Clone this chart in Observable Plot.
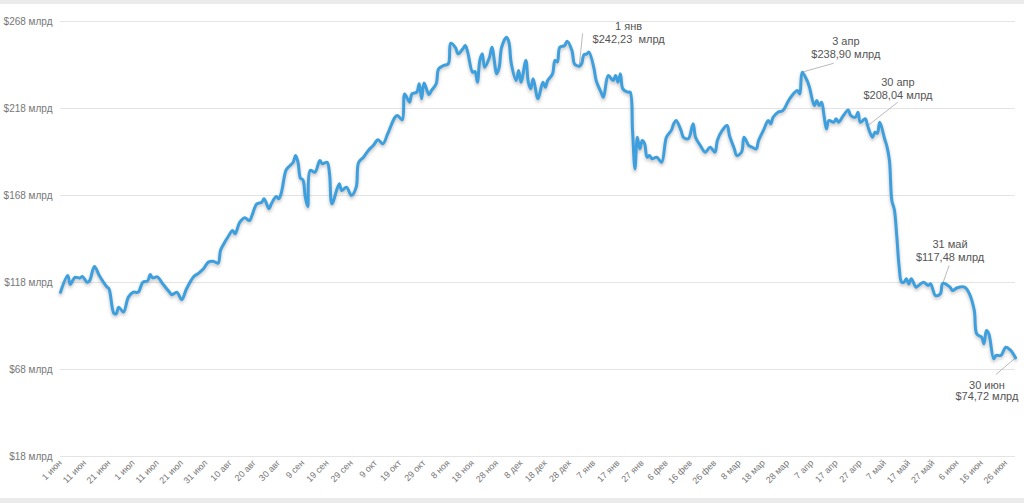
<!DOCTYPE html>
<html>
<head>
<meta charset="utf-8">
<script src="https://cdn.jsdelivr.net/npm/d3@7"></script>
<script src="https://cdn.jsdelivr.net/npm/@observablehq/plot@0.6"></script>
<style>
  html, body { margin: 0; padding: 0; background: #fff; }
  body { width: 1024px; height: 503px; overflow: hidden; position: relative; font-family: "Liberation Sans", Arial, Helvetica, sans-serif; }
  .strip { position: absolute; left: 0; width: 1024px; background: #ebebeb; }
  #chart svg { display: block; }
</style>
</head>
<body>
<div id="chart"></div>
<div class="strip" style="top:0;height:4px"></div>
<div class="strip" style="top:498px;height:5px"></div>
<script>
// Days since 1 June 2021 and total market value, $ billions
const days = [0,3,4,6,8,9,11,12,14,16,19,20,22,23,24,26,28,30,32,34,36,37,38,40,42,45,46,48,50,52,55,57,59,61,63,65,66,67,69,71,72,74,76,78,79,81,83,84,86,87,89,90,91,93,94,96,97,98,99,100,101,102,103,105,107,108,110,111,112,115,116,118,120,122,123,125,127,129,131,133,135,138,139,141,142,144,145,147,148,149,150,152,153,155,156,158,160,161,163,164,166,167,168,170,171,172,173,174,175,177,178,180,181,182,184,185,186,188,189,190,192,193,194,195,197,199,200,201,203,204,205,206,208,209,211,212,213,214,215,216,217,218,220,221,223,224,226,228,229,230,231,232,234,235,236,237,238,239,240,241,242,243,244,246,248,250,252,253,254,256,257,259,261,262,264,266,268,270,271,273,275,276,278,279,281,282,284,285,287,288,290,292,293,294,296,298,300,301,303,304,305,306,308,309,311,312,313,314,315,316,317,319,320,321,323,325,326,328,329,330,332,333,335,336,337,338,340,341,342,343,344,345,346,347,348,349,350,351,353,354,356,358,359,361,363,364,367,368,370,373,375,377,378,380,381,382,383,385,386,388,390,392,394];
const values = [112.4,122,116.9,121,120.6,121.4,118.2,119,127.2,122,115.7,114.4,100.4,100,103.8,101,109.6,112.4,112.4,118.2,119,122.6,120.7,121.2,117.6,112.4,111,112.4,108.2,114.4,121.4,123.4,125.9,129.7,130.2,129.1,136.4,139.3,144,147.9,146,152.7,155.2,153.6,156.5,163.2,164.1,166.1,160.4,163.2,167.4,166.1,169,182.4,184.3,187.1,191,187,178,177,167,161.7,182.4,181.4,188.1,186.2,187.1,180.5,163.2,174.7,170.9,172.8,168,172.8,187.1,190,193.9,196.7,200,197.7,203.5,213,214,211.5,226.4,221.6,226.4,227.4,232.2,223.6,232.6,226,228.3,232.2,240.8,242.7,243.7,255.5,252.9,249.4,252.3,254.2,250.4,238.9,239.2,233.1,245.6,249.4,241.7,247.5,253.2,237.9,241.7,253.2,259,256.1,243.7,234.1,239.8,233.1,245.6,233.1,229.3,235.1,223.6,233.1,230.2,234.1,237.9,245.6,244.8,253.2,254.2,256.7,251.3,243.7,242.7,242.23,243.7,249,249.2,250.4,241.7,234.1,227.4,224.5,237,234.1,237,233.1,237.9,229.3,227.4,227.4,205.4,183.3,201.5,194.8,199.6,197.7,190,191,189.1,190,187.1,201.5,205.4,209.2,211.1,205.4,201.5,200.6,209.2,201.5,196.7,192.9,195.8,192.9,199.6,205.4,208.2,202.5,194.8,191,193,201.5,196.7,196,194.8,199.6,205.4,211.1,209.2,213,215.9,216.8,221.6,224,227.4,228.3,226.4,238.9,234.1,230.2,219.7,222.6,219.7,221.6,214,206.3,211.1,210.1,212.1,210.1,214,217.2,214,213,215.9,210.1,212.1,208.04,201.5,204.4,203.8,210.1,200.6,196,188,165,160,145,127,118.2,118.2,120.1,117.2,120.1,115.3,116.3,118.2,116.3,117.2,110.5,111.5,117.48,115.3,113.4,115,115.3,111.5,101.9,88.5,86.6,82.8,90.4,88.5,74.2,76.1,76.1,80.8,79,74.72];

const yTicks = [18, 68, 118, 168, 218, 268];
const monthsRu = ["янв","фев","мар","апр","май","июн","июл","авг","сен","окт","ноя","дек"];

// Annotations
const annotDays = [214, 306, 333, 364, 394];
const annotValues = [242.23, 238.90, 208.04, 117.48, 74.72];
const annotLabels = ["1 янв\n$242,23  млрд", "3 апр\n$238,90 млрд", "30 апр\n$208,04 млрд", "31 май\n$117,48 млрд", "30 июн\n$74,72 млрд"];
// label placement (layout, in data space)
const labelDays = [234.4, 324, 345.5, 367, 382.2];
const labelValues = [255.9, 247.3, 223.7, 130.6, 61.5];
const leaderDays = [215.4, 319, 345.4, 366.6, 385.9];
const leaderValues = [261.1, 244, 221.6, 127.8, 65.1];

const t0 = Date.UTC(2021, 5, 1);
const dayToDate = d => new Date(t0 + d * 864e5);

const data = days.map((d, i) => ({date: dayToDate(d), value: values[i]}));
const annots = annotDays.map((d, i) => ({
  date: dayToDate(d), value: annotValues[i], label: annotLabels[i],
  ldate: dayToDate(labelDays[i]), lvalue: labelValues[i],
  kdate: dayToDate(leaderDays[i]), kvalue: leaderValues[i],
  below: i === 4
}));

const xTicks = d3.utcDay.range(dayToDate(0), dayToDate(395), 10);
const fmtX = d => `${d.getUTCDate()} ${monthsRu[d.getUTCMonth()]}`;

const chart = Plot.plot({
  width: 1024,
  height: 503,
  marginLeft: 60,
  marginRight: 9,
  marginTop: 21,
  marginBottom: 47,
  style: {fontFamily: "'Liberation Sans', Arial, Helvetica, sans-serif", color: "#777", background: "transparent"},
  x: {type: "utc", domain: [dayToDate(0), dayToDate(394)]},
  y: {domain: [18, 268]},
  marks: [
    Plot.gridY(yTicks, {stroke: "#e4e4e4", strokeOpacity: 1, strokeWidth: 1}),
    Plot.axisY({ticks: yTicks, tickFormat: d => `$${d} млрд`, tickSize: 0, tickPadding: 8, fontSize: 10, label: null}),
    Plot.axisX({ticks: xTicks, tickFormat: fmtX, tickRotate: -45, tickSize: 0, tickPadding: 5, fontSize: 9, label: null}),
    Plot.link(annots, {x1: "date", y1: "value", x2: "kdate", y2: "kvalue", stroke: "#a8a8a8", strokeWidth: 0.8}),
    Plot.line(data, {x: "date", y: "value", stroke: "#000", strokeOpacity: 0.18, strokeWidth: 4, curve: "catmull-rom", dy: 2}),
    Plot.line(data, {x: "date", y: "value", stroke: "#3d9fdd", strokeWidth: 3, curve: "catmull-rom"}),
    Plot.text(annots.filter(a => !a.below), {x: "ldate", y: "lvalue", text: "label", textAnchor: "middle", lineAnchor: "bottom", fontSize: 11, lineHeight: 1.1, fill: "#555"}),
    Plot.text(annots.filter(a => a.below), {x: "ldate", y: "lvalue", text: "label", textAnchor: "middle", lineAnchor: "top", fontSize: 11, lineHeight: 1.0, fill: "#555"})
  ]
});
document.getElementById("chart").appendChild(chart);
// soften the shadow line
const lines = chart.querySelectorAll("g[aria-label='line']");
if (lines.length) lines[0].style.filter = "blur(1.5px)";
</script>
</body>
</html>
